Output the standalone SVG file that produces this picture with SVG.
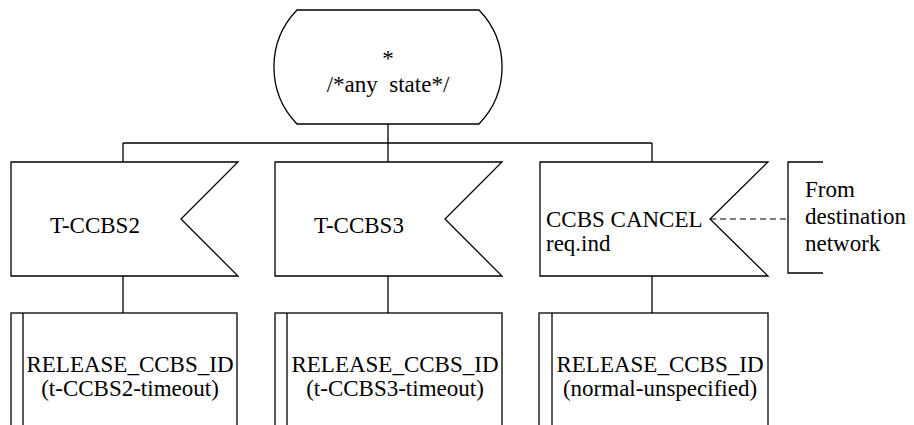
<svg xmlns="http://www.w3.org/2000/svg" width="914" height="425" viewBox="0 0 914 425">
<style>
.s{fill:#fff;stroke:#000;stroke-width:1.3}
.l{fill:none;stroke:#000;stroke-width:1.3}
.d{fill:none;stroke:#000;stroke-width:1.1;stroke-dasharray:6 4}
.c{text-anchor:middle}
</style>
<rect width="914" height="425" fill="#fff"/>
<g id="connectors">
<path class="l" d="M388 124V162M123 143H652M123 143V162M652 143V162"/>
<path class="l" d="M123 276V313M388 276V313M652 276V313"/>
<path class="d" d="M710 219H788"/>
</g>
<g font-family="Liberation Serif, Times New Roman, DejaVu Serif, serif" font-size="23" fill="#000">
<g id="state">
<path class="s" d="M297 10H479A82 82 0 0 1 479 124H297A82 82 0 0 1 297 10Z"/>
<text class="c" x="388" y="66">*</text>
<text class="c" x="388" y="92" xml:space="preserve">/*any  state*/</text>
</g>
<g id="sig1">
<path class="s" d="M11 162H238L181 219L238 276H11Z"/>
<text x="50" y="233">T-CCBS2</text>
</g>
<g id="sig2">
<path class="s" d="M275 162H502L445 219L502 276H275Z"/>
<text x="314" y="233">T-CCBS3</text>
</g>
<g id="sig3">
<path class="s" d="M540 162H768L710 219L768 276H540Z"/>
<text x="546" y="227">CCBS CANCEL</text>
<text x="546" y="251">req.ind</text>
</g>
<g id="comment">
<path class="l" d="M823 162H788V273H823"/>
<text x="805" y="197">From</text>
<text x="805" y="224">destination</text>
<text x="805" y="251">network</text>
</g>
<g id="proc1">
<rect class="s" x="11" y="313" width="226" height="130"/>
<path class="l" d="M23 313V430"/>
<text class="c" x="130" y="372">RELEASE_CCBS_ID</text>
<text class="c" x="130" y="396">(t-CCBS2-timeout)</text>
</g>
<g id="proc2">
<rect class="s" x="275" y="313" width="227" height="130"/>
<path class="l" d="M287 313V430"/>
<text class="c" x="395" y="372">RELEASE_CCBS_ID</text>
<text class="c" x="395" y="396">(t-CCBS3-timeout)</text>
</g>
<g id="proc3">
<rect class="s" x="539" y="313" width="229" height="130"/>
<path class="l" d="M552 313V430"/>
<text class="c" x="660" y="372">RELEASE_CCBS_ID</text>
<text class="c" x="660" y="396">(normal-unspecified)</text>
</g>
</g>
</svg>
